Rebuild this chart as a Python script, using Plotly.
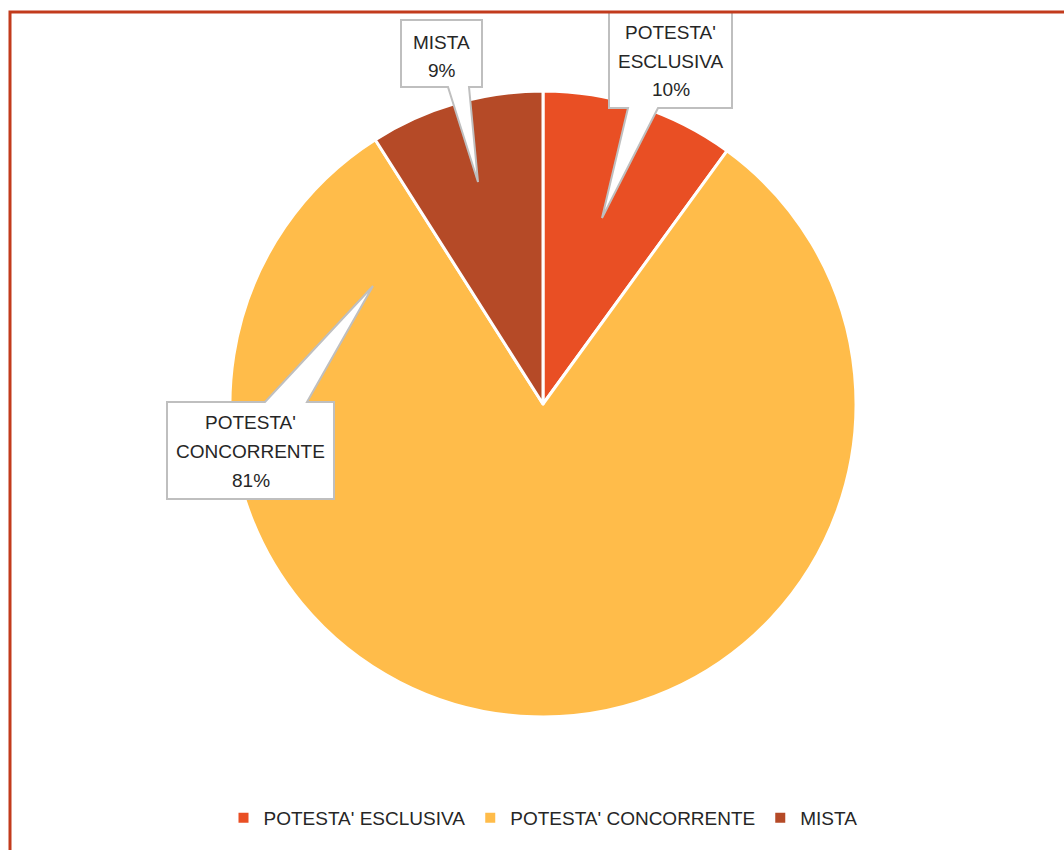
import plotly.graph_objects as go

# ---- data ----
labels = ["POTESTA' ESCLUSIVA", "POTESTA' CONCORRENTE", "MISTA"]
values = [10, 81, 9]
colors = ["#E94F24", "#FFBC4A", "#B54A27"]
callout_lines = [["POTESTA'", "ESCLUSIVA"], ["POTESTA'", "CONCORRENTE"], ["MISTA"]]

# ---- layout constants (pixels) ----
W, H = 1064, 850
CX, CY, R = 543, 404, 313
FONT = "Liberation Sans, Arial, sans-serif"
TXT = "#262626"

# callout boxes: (x0, y0, x1, y1), pointer side, pointer base (xa, xb), tip (x, y), first text line y
callouts = [
    dict(box=(609, 12, 732, 108), side="bottom", base=(628, 658), tip=(602, 218), y0=33),
    dict(box=(167, 402, 334, 499), side="top", base=(265, 307), tip=(373, 286), y0=423),
    dict(box=(401, 20, 482, 87), side="bottom", base=(448, 469), tip=(478, 182), y0=42),
]
LINE_H = 28.5


def px(x):
    return x / W


def py(y):
    return 1 - y / H


def callout_path(c):
    x0, y0, x1, y1 = c["box"]
    xa, xb = c["base"]
    tx, ty = c["tip"]
    if c["side"] == "bottom":
        pts = [(x0, y0), (x1, y0), (x1, y1), (xb, y1), (tx, ty), (xa, y1), (x0, y1)]
    else:
        pts = [(x0, y0), (xa, y0), (tx, ty), (xb, y0), (x1, y0), (x1, y1), (x0, y1)]
    return "M " + " L ".join(f"{px(x):.5f},{py(y):.5f}" for x, y in pts) + " Z"


total = sum(values)

fig = go.Figure()
fig.add_trace(go.Pie(
    labels=labels,
    values=values,
    sort=False,
    direction="clockwise",
    rotation=0,
    marker=dict(colors=colors, line=dict(color="white", width=3)),
    textinfo="none",
    hoverinfo="label+percent",
    domain=dict(x=[px(CX - R), px(CX + R)], y=[py(CY + R), py(CY - R)]),
    showlegend=True,
))

shapes = []
annotations = []
for c, lines, v in zip(callouts, callout_lines, values):
    shapes.append(dict(
        type="path", xref="paper", yref="paper", path=callout_path(c),
        fillcolor="white", line=dict(color="#BFBFBF", width=2), layer="above",
    ))
    pct = f"{round(v / total * 100)}%"
    x0, _, x1, _ = c["box"]
    for i, t in enumerate(lines + [pct]):
        annotations.append(dict(
            x=px((x0 + x1) / 2), y=py(c["y0"] + i * LINE_H), xref="paper", yref="paper",
            text=t, showarrow=False, xanchor="center", yanchor="middle",
            font=dict(family=FONT, size=19, color=TXT),
        ))

# outer frame (only top/left visible in the crop)
shapes.append(dict(
    type="rect", xref="paper", yref="paper",
    x0=px(10), x1=px(W + 20), y0=py(H + 20), y1=py(12),
    line=dict(color="#C23B1C", width=3), fillcolor="rgba(0,0,0,0)", layer="above",
))

fig.update_layout(
    width=W, height=H,
    margin=dict(l=0, r=0, t=0, b=0),
    paper_bgcolor="white", plot_bgcolor="white",
    shapes=shapes,
    annotations=annotations,
    legend=dict(
        orientation="h", x=px(543), xanchor="center", y=py(818), yanchor="middle",
        font=dict(family=FONT, size=19, color=TXT),
        itemsizing="constant", itemwidth=30,
    ),
)

fig.write_html("out.html", config={"displayModeBar": False},
               post_script="document.body.style.margin='0';")
